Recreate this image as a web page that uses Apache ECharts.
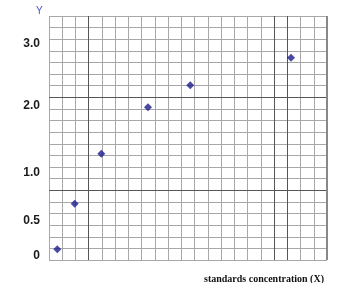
<!DOCTYPE html>
<html><head><meta charset="utf-8">
<script src="https://cdn.jsdelivr.net/npm/echarts@6/dist/echarts.min.js"></script>
<style>html,body{margin:0;padding:0;background:#fff}#c{width:349px;height:283px}</style>
</head><body><div id="c"></div>
<script>
// Data in graph-paper cell units (21 x 21 grid)
var xValues = [0.63, 1.94, 3.95, 7.48, 10.67, 18.28];
var yValues = [0.92, 4.85, 9.15, 13.14, 15.04, 17.41];
// Y tick labels and their positions (cell units from bottom)
var yTickLabels = ['0', '0.5', '1.0', '2.0', '3.0'];
var yTickPos = [0.34, 3.36, 7.49, 13.25, 18.65];
var darkX = [3, 17, 18];
var darkY = [6, 14];
var xTitle = 'standards concentration (X)';
var yTitle = 'Y';

var chart = echarts.init(document.getElementById('c'), null, {renderer: 'canvas'});
var pts = xValues.map(function (x, i) { return [x, yValues[i]]; });
var marks = [];
darkX.forEach(function (v) { marks.push({xAxis: v}); });
darkY.forEach(function (v) { marks.push({yAxis: v}); });

chart.setOption({
  animation: false,
  backgroundColor: '#fff',
  title: [
    {text: yTitle, left: 31, top: 1, textStyle: {color: '#5050c8', fontSize: 10, fontWeight: 'normal', fontFamily: 'Liberation Sans'}},
    {text: xTitle, left: 199, top: 269, textStyle: {color: '#111', fontSize: 10, fontWeight: 'bold', fontFamily: 'Liberation Serif'}}
  ],
  grid: {left: 49, top: 16, width: 278, height: 244, show: false},
  xAxis: {
    type: 'value', min: 0, max: 21, interval: 1,
    axisLine: {show: false}, axisTick: {show: false}, axisLabel: {show: false},
    splitLine: {show: true, lineStyle: {color: '#a8a8a8', width: 1}}
  },
  yAxis: {
    type: 'value', min: 0, max: 21, interval: 1,
    axisLine: {show: false}, axisTick: {show: false},
    axisLabel: {
      show: true, customValues: yTickPos, margin: 9,
      color: '#1a1a1a', fontSize: 12, fontWeight: 'bold', fontFamily: 'Liberation Sans',
      formatter: function (v) {
        var i = yTickPos.indexOf(v);
        return i >= 0 ? yTickLabels[i] : '';
      }
    },
    splitLine: {show: true, lineStyle: {color: '#a8a8a8', width: 1}}
  },
  series: [
    {
      type: 'scatter', data: pts, symbol: 'diamond', symbolSize: 8,
      itemStyle: {color: '#1c1c8c'}, z: 5,
      markLine: {
        silent: true, symbol: 'none', label: {show: false},
        lineStyle: {color: '#555', width: 1, type: 'solid'},
        data: marks.concat([{xAxis: 21, lineStyle: {color: '#888', width: 2}}])
      }
    }
  ]
});
</script></body></html>
